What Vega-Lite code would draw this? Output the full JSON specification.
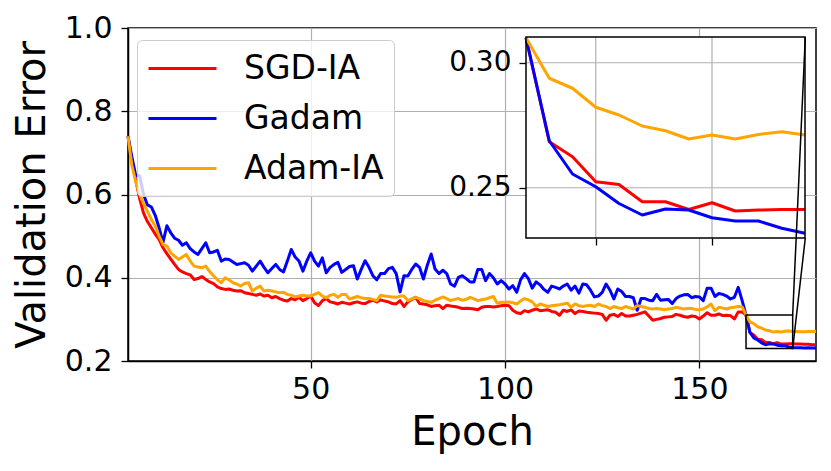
{
  "$schema": "https://vega.github.io/schema/vega-lite/v6.json",
  "width": 688,
  "height": 333,
  "autosize": {"type": "none"},
  "padding": {"left": 128, "top": 28, "right": 15, "bottom": 110},
  "config": {
    "font": "DejaVu Sans",
    "view": {"stroke": "black", "strokeWidth": 1.5},
    "axis": {
      "labelFont": "DejaVu Sans", "titleFont": "DejaVu Sans",
      "labelColor": "black", "titleColor": "black", "titleFontWeight": "normal",
      "domainColor": "black", "domainWidth": 1.5,
      "tickColor": "black", "tickWidth": 1.3,
      "gridColor": "#b0b0b0", "gridWidth": 1.2,
      "labelFlush": false, "labelOverlap": false
    }
  },
  "datasets": {
    "err": [
      {"method":"SGD-IA","epoch":3,"error":0.74},{"method":"SGD-IA","epoch":4,"error":0.68},{"method":"SGD-IA","epoch":5,"error":0.635},{"method":"SGD-IA","epoch":6,"error":0.59},{"method":"SGD-IA","epoch":7,"error":0.555},{"method":"SGD-IA","epoch":8,"error":0.535},{"method":"SGD-IA","epoch":9,"error":0.52},{"method":"SGD-IA","epoch":10,"error":0.505},
      {"method":"SGD-IA","epoch":11,"error":0.492},{"method":"SGD-IA","epoch":12,"error":0.472},{"method":"SGD-IA","epoch":13,"error":0.458},{"method":"SGD-IA","epoch":14,"error":0.445},{"method":"SGD-IA","epoch":15,"error":0.432},{"method":"SGD-IA","epoch":16,"error":0.42},{"method":"SGD-IA","epoch":17,"error":0.414},{"method":"SGD-IA","epoch":18,"error":0.41},{"method":"SGD-IA","epoch":19,"error":0.407},{"method":"SGD-IA","epoch":20,"error":0.396},
      {"method":"SGD-IA","epoch":21,"error":0.398},{"method":"SGD-IA","epoch":22,"error":0.403},{"method":"SGD-IA","epoch":23,"error":0.396},{"method":"SGD-IA","epoch":24,"error":0.39},{"method":"SGD-IA","epoch":25,"error":0.386},{"method":"SGD-IA","epoch":26,"error":0.378},{"method":"SGD-IA","epoch":27,"error":0.374},{"method":"SGD-IA","epoch":28,"error":0.372},{"method":"SGD-IA","epoch":29,"error":0.373},{"method":"SGD-IA","epoch":30,"error":0.37},
      {"method":"SGD-IA","epoch":31,"error":0.368},{"method":"SGD-IA","epoch":32,"error":0.369},{"method":"SGD-IA","epoch":33,"error":0.364},{"method":"SGD-IA","epoch":34,"error":0.362},{"method":"SGD-IA","epoch":35,"error":0.36},{"method":"SGD-IA","epoch":36,"error":0.358},{"method":"SGD-IA","epoch":37,"error":0.361},{"method":"SGD-IA","epoch":38,"error":0.356},{"method":"SGD-IA","epoch":39,"error":0.358},{"method":"SGD-IA","epoch":40,"error":0.352},
      {"method":"SGD-IA","epoch":41,"error":0.355},{"method":"SGD-IA","epoch":42,"error":0.35},{"method":"SGD-IA","epoch":43,"error":0.346},{"method":"SGD-IA","epoch":44,"error":0.344},{"method":"SGD-IA","epoch":45,"error":0.35},{"method":"SGD-IA","epoch":46,"error":0.347},{"method":"SGD-IA","epoch":47,"error":0.353},{"method":"SGD-IA","epoch":48,"error":0.345},{"method":"SGD-IA","epoch":49,"error":0.35},{"method":"SGD-IA","epoch":50,"error":0.356},
      {"method":"SGD-IA","epoch":51,"error":0.34},{"method":"SGD-IA","epoch":52,"error":0.333},{"method":"SGD-IA","epoch":53,"error":0.345},{"method":"SGD-IA","epoch":54,"error":0.35},{"method":"SGD-IA","epoch":55,"error":0.342},{"method":"SGD-IA","epoch":56,"error":0.34},{"method":"SGD-IA","epoch":57,"error":0.337},{"method":"SGD-IA","epoch":58,"error":0.341},{"method":"SGD-IA","epoch":59,"error":0.339},{"method":"SGD-IA","epoch":60,"error":0.337},
      {"method":"SGD-IA","epoch":61,"error":0.34},{"method":"SGD-IA","epoch":62,"error":0.342},{"method":"SGD-IA","epoch":63,"error":0.339},{"method":"SGD-IA","epoch":64,"error":0.338},{"method":"SGD-IA","epoch":65,"error":0.343},{"method":"SGD-IA","epoch":66,"error":0.346},{"method":"SGD-IA","epoch":67,"error":0.342},{"method":"SGD-IA","epoch":68,"error":0.347},{"method":"SGD-IA","epoch":69,"error":0.344},{"method":"SGD-IA","epoch":70,"error":0.342},
      {"method":"SGD-IA","epoch":71,"error":0.338},{"method":"SGD-IA","epoch":72,"error":0.337},{"method":"SGD-IA","epoch":73,"error":0.345},{"method":"SGD-IA","epoch":74,"error":0.331},{"method":"SGD-IA","epoch":75,"error":0.342},{"method":"SGD-IA","epoch":76,"error":0.348},{"method":"SGD-IA","epoch":77,"error":0.353},{"method":"SGD-IA","epoch":78,"error":0.338},{"method":"SGD-IA","epoch":79,"error":0.337},{"method":"SGD-IA","epoch":80,"error":0.335},
      {"method":"SGD-IA","epoch":81,"error":0.331},{"method":"SGD-IA","epoch":82,"error":0.333},{"method":"SGD-IA","epoch":83,"error":0.334},{"method":"SGD-IA","epoch":84,"error":0.326},{"method":"SGD-IA","epoch":85,"error":0.334},{"method":"SGD-IA","epoch":86,"error":0.332},{"method":"SGD-IA","epoch":87,"error":0.331},{"method":"SGD-IA","epoch":88,"error":0.329},{"method":"SGD-IA","epoch":89,"error":0.326},{"method":"SGD-IA","epoch":90,"error":0.327},
      {"method":"SGD-IA","epoch":91,"error":0.326},{"method":"SGD-IA","epoch":92,"error":0.325},{"method":"SGD-IA","epoch":93,"error":0.323},{"method":"SGD-IA","epoch":94,"error":0.329},{"method":"SGD-IA","epoch":95,"error":0.331},{"method":"SGD-IA","epoch":96,"error":0.331},{"method":"SGD-IA","epoch":97,"error":0.33},{"method":"SGD-IA","epoch":98,"error":0.331},{"method":"SGD-IA","epoch":99,"error":0.333},{"method":"SGD-IA","epoch":100,"error":0.334},
      {"method":"SGD-IA","epoch":101,"error":0.333},{"method":"SGD-IA","epoch":102,"error":0.322},{"method":"SGD-IA","epoch":103,"error":0.316},{"method":"SGD-IA","epoch":104,"error":0.314},{"method":"SGD-IA","epoch":105,"error":0.321},{"method":"SGD-IA","epoch":106,"error":0.318},{"method":"SGD-IA","epoch":107,"error":0.322},{"method":"SGD-IA","epoch":108,"error":0.325},{"method":"SGD-IA","epoch":109,"error":0.321},{"method":"SGD-IA","epoch":110,"error":0.322},
      {"method":"SGD-IA","epoch":111,"error":0.323},{"method":"SGD-IA","epoch":112,"error":0.319},{"method":"SGD-IA","epoch":113,"error":0.317},{"method":"SGD-IA","epoch":114,"error":0.31},{"method":"SGD-IA","epoch":115,"error":0.322},{"method":"SGD-IA","epoch":116,"error":0.319},{"method":"SGD-IA","epoch":117,"error":0.323},{"method":"SGD-IA","epoch":118,"error":0.314},{"method":"SGD-IA","epoch":119,"error":0.32},{"method":"SGD-IA","epoch":120,"error":0.319},
      {"method":"SGD-IA","epoch":121,"error":0.317},{"method":"SGD-IA","epoch":122,"error":0.316},{"method":"SGD-IA","epoch":123,"error":0.315},{"method":"SGD-IA","epoch":124,"error":0.314},{"method":"SGD-IA","epoch":125,"error":0.312},{"method":"SGD-IA","epoch":126,"error":0.298},{"method":"SGD-IA","epoch":127,"error":0.31},{"method":"SGD-IA","epoch":128,"error":0.312},{"method":"SGD-IA","epoch":129,"error":0.307},{"method":"SGD-IA","epoch":130,"error":0.314},
      {"method":"SGD-IA","epoch":131,"error":0.308},{"method":"SGD-IA","epoch":132,"error":0.308},{"method":"SGD-IA","epoch":133,"error":0.31},{"method":"SGD-IA","epoch":134,"error":0.312},{"method":"SGD-IA","epoch":135,"error":0.315},{"method":"SGD-IA","epoch":136,"error":0.318},{"method":"SGD-IA","epoch":137,"error":0.308},{"method":"SGD-IA","epoch":138,"error":0.298},{"method":"SGD-IA","epoch":139,"error":0.3},{"method":"SGD-IA","epoch":140,"error":0.302},
      {"method":"SGD-IA","epoch":141,"error":0.305},{"method":"SGD-IA","epoch":142,"error":0.306},{"method":"SGD-IA","epoch":143,"error":0.307},{"method":"SGD-IA","epoch":144,"error":0.312},{"method":"SGD-IA","epoch":145,"error":0.31},{"method":"SGD-IA","epoch":146,"error":0.307},{"method":"SGD-IA","epoch":147,"error":0.305},{"method":"SGD-IA","epoch":148,"error":0.308},{"method":"SGD-IA","epoch":149,"error":0.307},{"method":"SGD-IA","epoch":150,"error":0.301},
      {"method":"SGD-IA","epoch":151,"error":0.308},{"method":"SGD-IA","epoch":152,"error":0.316},{"method":"SGD-IA","epoch":153,"error":0.31},{"method":"SGD-IA","epoch":154,"error":0.31},{"method":"SGD-IA","epoch":155,"error":0.313},{"method":"SGD-IA","epoch":156,"error":0.309},{"method":"SGD-IA","epoch":157,"error":0.31},{"method":"SGD-IA","epoch":158,"error":0.309},{"method":"SGD-IA","epoch":159,"error":0.301},{"method":"SGD-IA","epoch":160,"error":0.318},
      {"method":"SGD-IA","epoch":161,"error":0.318},{"method":"SGD-IA","epoch":162,"error":0.31},{"method":"SGD-IA","epoch":163,"error":0.2684},{"method":"SGD-IA","epoch":164,"error":0.2624},{"method":"SGD-IA","epoch":165,"error":0.2524},{"method":"SGD-IA","epoch":166,"error":0.2513},{"method":"SGD-IA","epoch":167,"error":0.2444},{"method":"SGD-IA","epoch":168,"error":0.2444},{"method":"SGD-IA","epoch":169,"error":0.2413},{"method":"SGD-IA","epoch":170,"error":0.244},
      {"method":"SGD-IA","epoch":171,"error":0.2407},{"method":"SGD-IA","epoch":172,"error":0.2411},{"method":"SGD-IA","epoch":173,"error":0.2413},{"method":"SGD-IA","epoch":174,"error":0.2413},{"method":"SGD-IA","epoch":175,"error":0.241},{"method":"SGD-IA","epoch":176,"error":0.241},{"method":"SGD-IA","epoch":177,"error":0.24},{"method":"SGD-IA","epoch":178,"error":0.24},{"method":"SGD-IA","epoch":179,"error":0.239},{"method":"SGD-IA","epoch":180,"error":0.239},

      {"method":"Gadam","epoch":3,"error":0.74},{"method":"Gadam","epoch":4,"error":0.69},{"method":"Gadam","epoch":5,"error":0.645},{"method":"Gadam","epoch":6,"error":0.645},{"method":"Gadam","epoch":7,"error":0.6},{"method":"Gadam","epoch":8,"error":0.575},{"method":"Gadam","epoch":9,"error":0.57},{"method":"Gadam","epoch":10,"error":0.55},
      {"method":"Gadam","epoch":11,"error":0.52},{"method":"Gadam","epoch":12,"error":0.485},{"method":"Gadam","epoch":13,"error":0.525},{"method":"Gadam","epoch":14,"error":0.508},{"method":"Gadam","epoch":15,"error":0.495},{"method":"Gadam","epoch":16,"error":0.49},{"method":"Gadam","epoch":17,"error":0.478},{"method":"Gadam","epoch":18,"error":0.484},{"method":"Gadam","epoch":19,"error":0.47},{"method":"Gadam","epoch":20,"error":0.462},
      {"method":"Gadam","epoch":21,"error":0.456},{"method":"Gadam","epoch":22,"error":0.47},{"method":"Gadam","epoch":23,"error":0.484},{"method":"Gadam","epoch":24,"error":0.46},{"method":"Gadam","epoch":25,"error":0.462},{"method":"Gadam","epoch":26,"error":0.466},{"method":"Gadam","epoch":27,"error":0.44},{"method":"Gadam","epoch":28,"error":0.445},{"method":"Gadam","epoch":29,"error":0.444},{"method":"Gadam","epoch":30,"error":0.438},
      {"method":"Gadam","epoch":31,"error":0.432},{"method":"Gadam","epoch":32,"error":0.434},{"method":"Gadam","epoch":33,"error":0.436},{"method":"Gadam","epoch":34,"error":0.43},{"method":"Gadam","epoch":35,"error":0.416},{"method":"Gadam","epoch":36,"error":0.428},{"method":"Gadam","epoch":37,"error":0.44},{"method":"Gadam","epoch":38,"error":0.425},{"method":"Gadam","epoch":39,"error":0.412},{"method":"Gadam","epoch":40,"error":0.422},
      {"method":"Gadam","epoch":41,"error":0.432},{"method":"Gadam","epoch":42,"error":0.42},{"method":"Gadam","epoch":43,"error":0.414},{"method":"Gadam","epoch":44,"error":0.44},{"method":"Gadam","epoch":45,"error":0.468},{"method":"Gadam","epoch":46,"error":0.45},{"method":"Gadam","epoch":47,"error":0.44},{"method":"Gadam","epoch":48,"error":0.416},{"method":"Gadam","epoch":49,"error":0.44},{"method":"Gadam","epoch":50,"error":0.46},
      {"method":"Gadam","epoch":51,"error":0.44},{"method":"Gadam","epoch":52,"error":0.428},{"method":"Gadam","epoch":53,"error":0.448},{"method":"Gadam","epoch":54,"error":0.412},{"method":"Gadam","epoch":55,"error":0.425},{"method":"Gadam","epoch":56,"error":0.432},{"method":"Gadam","epoch":57,"error":0.437},{"method":"Gadam","epoch":58,"error":0.413},{"method":"Gadam","epoch":59,"error":0.42},{"method":"Gadam","epoch":60,"error":0.427},
      {"method":"Gadam","epoch":61,"error":0.429},{"method":"Gadam","epoch":62,"error":0.397},{"method":"Gadam","epoch":63,"error":0.42},{"method":"Gadam","epoch":64,"error":0.441},{"method":"Gadam","epoch":65,"error":0.425},{"method":"Gadam","epoch":66,"error":0.405},{"method":"Gadam","epoch":67,"error":0.395},{"method":"Gadam","epoch":68,"error":0.41},{"method":"Gadam","epoch":69,"error":0.41},{"method":"Gadam","epoch":70,"error":0.422},
      {"method":"Gadam","epoch":71,"error":0.425},{"method":"Gadam","epoch":72,"error":0.41},{"method":"Gadam","epoch":73,"error":0.366},{"method":"Gadam","epoch":74,"error":0.405},{"method":"Gadam","epoch":75,"error":0.404},{"method":"Gadam","epoch":76,"error":0.42},{"method":"Gadam","epoch":77,"error":0.433},{"method":"Gadam","epoch":78,"error":0.425},{"method":"Gadam","epoch":79,"error":0.397},{"method":"Gadam","epoch":80,"error":0.43},
      {"method":"Gadam","epoch":81,"error":0.457},{"method":"Gadam","epoch":82,"error":0.421},{"method":"Gadam","epoch":83,"error":0.41},{"method":"Gadam","epoch":84,"error":0.418},{"method":"Gadam","epoch":85,"error":0.41},{"method":"Gadam","epoch":86,"error":0.385},{"method":"Gadam","epoch":87,"error":0.38},{"method":"Gadam","epoch":88,"error":0.401},{"method":"Gadam","epoch":89,"error":0.405},{"method":"Gadam","epoch":90,"error":0.398},
      {"method":"Gadam","epoch":91,"error":0.39},{"method":"Gadam","epoch":92,"error":0.39},{"method":"Gadam","epoch":93,"error":0.42},{"method":"Gadam","epoch":94,"error":0.42},{"method":"Gadam","epoch":95,"error":0.393},{"method":"Gadam","epoch":96,"error":0.41},{"method":"Gadam","epoch":97,"error":0.4},{"method":"Gadam","epoch":98,"error":0.385},{"method":"Gadam","epoch":99,"error":0.393},{"method":"Gadam","epoch":100,"error":0.385},
      {"method":"Gadam","epoch":101,"error":0.373},{"method":"Gadam","epoch":102,"error":0.381},{"method":"Gadam","epoch":103,"error":0.365},{"method":"Gadam","epoch":104,"error":0.395},{"method":"Gadam","epoch":105,"error":0.41},{"method":"Gadam","epoch":106,"error":0.398},{"method":"Gadam","epoch":107,"error":0.375},{"method":"Gadam","epoch":108,"error":0.39},{"method":"Gadam","epoch":109,"error":0.383},{"method":"Gadam","epoch":110,"error":0.372},
      {"method":"Gadam","epoch":111,"error":0.365},{"method":"Gadam","epoch":112,"error":0.38},{"method":"Gadam","epoch":113,"error":0.377},{"method":"Gadam","epoch":114,"error":0.373},{"method":"Gadam","epoch":115,"error":0.38},{"method":"Gadam","epoch":116,"error":0.385},{"method":"Gadam","epoch":117,"error":0.37},{"method":"Gadam","epoch":118,"error":0.38},{"method":"Gadam","epoch":119,"error":0.363},{"method":"Gadam","epoch":120,"error":0.385},
      {"method":"Gadam","epoch":121,"error":0.383},{"method":"Gadam","epoch":122,"error":0.37},{"method":"Gadam","epoch":123,"error":0.354},{"method":"Gadam","epoch":124,"error":0.356},{"method":"Gadam","epoch":125,"error":0.365},{"method":"Gadam","epoch":126,"error":0.385},{"method":"Gadam","epoch":127,"error":0.37},{"method":"Gadam","epoch":128,"error":0.349},{"method":"Gadam","epoch":129,"error":0.373},{"method":"Gadam","epoch":130,"error":0.367},
      {"method":"Gadam","epoch":131,"error":0.355},{"method":"Gadam","epoch":132,"error":0.355},{"method":"Gadam","epoch":133,"error":0.352},{"method":"Gadam","epoch":134,"error":0.322},{"method":"Gadam","epoch":135,"error":0.35},{"method":"Gadam","epoch":136,"error":0.35},{"method":"Gadam","epoch":137,"error":0.346},{"method":"Gadam","epoch":138,"error":0.345},{"method":"Gadam","epoch":139,"error":0.36},{"method":"Gadam","epoch":140,"error":0.346},
      {"method":"Gadam","epoch":141,"error":0.347},{"method":"Gadam","epoch":142,"error":0.348},{"method":"Gadam","epoch":143,"error":0.338},{"method":"Gadam","epoch":144,"error":0.35},{"method":"Gadam","epoch":145,"error":0.356},{"method":"Gadam","epoch":146,"error":0.359},{"method":"Gadam","epoch":147,"error":0.36},{"method":"Gadam","epoch":148,"error":0.352},{"method":"Gadam","epoch":149,"error":0.355},{"method":"Gadam","epoch":150,"error":0.354},
      {"method":"Gadam","epoch":151,"error":0.345},{"method":"Gadam","epoch":152,"error":0.375},{"method":"Gadam","epoch":153,"error":0.375},{"method":"Gadam","epoch":154,"error":0.355},{"method":"Gadam","epoch":155,"error":0.362},{"method":"Gadam","epoch":156,"error":0.36},{"method":"Gadam","epoch":157,"error":0.356},{"method":"Gadam","epoch":158,"error":0.349},{"method":"Gadam","epoch":159,"error":0.353},{"method":"Gadam","epoch":160,"error":0.377},
      {"method":"Gadam","epoch":161,"error":0.345},{"method":"Gadam","epoch":162,"error":0.31},{"method":"Gadam","epoch":163,"error":0.2688},{"method":"Gadam","epoch":164,"error":0.2555},{"method":"Gadam","epoch":165,"error":0.2504},{"method":"Gadam","epoch":166,"error":0.2437},{"method":"Gadam","epoch":167,"error":0.2391},{"method":"Gadam","epoch":168,"error":0.2415},{"method":"Gadam","epoch":169,"error":0.2411},{"method":"Gadam","epoch":170,"error":0.238},
      {"method":"Gadam","epoch":171,"error":0.2367},{"method":"Gadam","epoch":172,"error":0.2367},{"method":"Gadam","epoch":173,"error":0.2338},{"method":"Gadam","epoch":174,"error":0.2318},{"method":"Gadam","epoch":175,"error":0.232},{"method":"Gadam","epoch":176,"error":0.232},{"method":"Gadam","epoch":177,"error":0.231},{"method":"Gadam","epoch":178,"error":0.232},{"method":"Gadam","epoch":179,"error":0.231},{"method":"Gadam","epoch":180,"error":0.231},

      {"method":"Adam-IA","epoch":3,"error":0.74},{"method":"Adam-IA","epoch":4,"error":0.67},{"method":"Adam-IA","epoch":5,"error":0.63},{"method":"Adam-IA","epoch":6,"error":0.6},{"method":"Adam-IA","epoch":7,"error":0.578},{"method":"Adam-IA","epoch":8,"error":0.56},{"method":"Adam-IA","epoch":9,"error":0.54},{"method":"Adam-IA","epoch":10,"error":0.525},
      {"method":"Adam-IA","epoch":11,"error":0.5},{"method":"Adam-IA","epoch":12,"error":0.48},{"method":"Adam-IA","epoch":13,"error":0.476},{"method":"Adam-IA","epoch":14,"error":0.46},{"method":"Adam-IA","epoch":15,"error":0.452},{"method":"Adam-IA","epoch":16,"error":0.444},{"method":"Adam-IA","epoch":17,"error":0.45},{"method":"Adam-IA","epoch":18,"error":0.456},{"method":"Adam-IA","epoch":19,"error":0.44},{"method":"Adam-IA","epoch":20,"error":0.428},
      {"method":"Adam-IA","epoch":21,"error":0.426},{"method":"Adam-IA","epoch":22,"error":0.424},{"method":"Adam-IA","epoch":23,"error":0.428},{"method":"Adam-IA","epoch":24,"error":0.415},{"method":"Adam-IA","epoch":25,"error":0.405},{"method":"Adam-IA","epoch":26,"error":0.395},{"method":"Adam-IA","epoch":27,"error":0.388},{"method":"Adam-IA","epoch":28,"error":0.4},{"method":"Adam-IA","epoch":29,"error":0.395},{"method":"Adam-IA","epoch":30,"error":0.388},
      {"method":"Adam-IA","epoch":31,"error":0.385},{"method":"Adam-IA","epoch":32,"error":0.38},{"method":"Adam-IA","epoch":33,"error":0.386},{"method":"Adam-IA","epoch":34,"error":0.388},{"method":"Adam-IA","epoch":35,"error":0.368},{"method":"Adam-IA","epoch":36,"error":0.375},{"method":"Adam-IA","epoch":37,"error":0.38},{"method":"Adam-IA","epoch":38,"error":0.368},{"method":"Adam-IA","epoch":39,"error":0.37},{"method":"Adam-IA","epoch":40,"error":0.368},
      {"method":"Adam-IA","epoch":41,"error":0.366},{"method":"Adam-IA","epoch":42,"error":0.364},{"method":"Adam-IA","epoch":43,"error":0.365},{"method":"Adam-IA","epoch":44,"error":0.36},{"method":"Adam-IA","epoch":45,"error":0.358},{"method":"Adam-IA","epoch":46,"error":0.354},{"method":"Adam-IA","epoch":47,"error":0.356},{"method":"Adam-IA","epoch":48,"error":0.358},{"method":"Adam-IA","epoch":49,"error":0.356},{"method":"Adam-IA","epoch":50,"error":0.356},
      {"method":"Adam-IA","epoch":51,"error":0.36},{"method":"Adam-IA","epoch":52,"error":0.364},{"method":"Adam-IA","epoch":53,"error":0.356},{"method":"Adam-IA","epoch":54,"error":0.352},{"method":"Adam-IA","epoch":55,"error":0.358},{"method":"Adam-IA","epoch":56,"error":0.36},{"method":"Adam-IA","epoch":57,"error":0.353},{"method":"Adam-IA","epoch":58,"error":0.36},{"method":"Adam-IA","epoch":59,"error":0.36},{"method":"Adam-IA","epoch":60,"error":0.349},
      {"method":"Adam-IA","epoch":61,"error":0.352},{"method":"Adam-IA","epoch":62,"error":0.355},{"method":"Adam-IA","epoch":63,"error":0.352},{"method":"Adam-IA","epoch":64,"error":0.35},{"method":"Adam-IA","epoch":65,"error":0.35},{"method":"Adam-IA","epoch":66,"error":0.348},{"method":"Adam-IA","epoch":67,"error":0.345},{"method":"Adam-IA","epoch":68,"error":0.358},{"method":"Adam-IA","epoch":69,"error":0.356},{"method":"Adam-IA","epoch":70,"error":0.355},
      {"method":"Adam-IA","epoch":71,"error":0.354},{"method":"Adam-IA","epoch":72,"error":0.353},{"method":"Adam-IA","epoch":73,"error":0.356},{"method":"Adam-IA","epoch":74,"error":0.356},{"method":"Adam-IA","epoch":75,"error":0.345},{"method":"Adam-IA","epoch":76,"error":0.349},{"method":"Adam-IA","epoch":77,"error":0.353},{"method":"Adam-IA","epoch":78,"error":0.35},{"method":"Adam-IA","epoch":79,"error":0.345},{"method":"Adam-IA","epoch":80,"error":0.343},
      {"method":"Adam-IA","epoch":81,"error":0.341},{"method":"Adam-IA","epoch":82,"error":0.346},{"method":"Adam-IA","epoch":83,"error":0.35},{"method":"Adam-IA","epoch":84,"error":0.354},{"method":"Adam-IA","epoch":85,"error":0.35},{"method":"Adam-IA","epoch":86,"error":0.345},{"method":"Adam-IA","epoch":87,"error":0.348},{"method":"Adam-IA","epoch":88,"error":0.35},{"method":"Adam-IA","epoch":89,"error":0.346},{"method":"Adam-IA","epoch":90,"error":0.348},
      {"method":"Adam-IA","epoch":91,"error":0.353},{"method":"Adam-IA","epoch":92,"error":0.349},{"method":"Adam-IA","epoch":93,"error":0.345},{"method":"Adam-IA","epoch":94,"error":0.347},{"method":"Adam-IA","epoch":95,"error":0.349},{"method":"Adam-IA","epoch":96,"error":0.352},{"method":"Adam-IA","epoch":97,"error":0.355},{"method":"Adam-IA","epoch":98,"error":0.339},{"method":"Adam-IA","epoch":99,"error":0.341},{"method":"Adam-IA","epoch":100,"error":0.341},
      {"method":"Adam-IA","epoch":101,"error":0.342},{"method":"Adam-IA","epoch":102,"error":0.34},{"method":"Adam-IA","epoch":103,"error":0.337},{"method":"Adam-IA","epoch":104,"error":0.344},{"method":"Adam-IA","epoch":105,"error":0.35},{"method":"Adam-IA","epoch":106,"error":0.347},{"method":"Adam-IA","epoch":107,"error":0.342},{"method":"Adam-IA","epoch":108,"error":0.331},{"method":"Adam-IA","epoch":109,"error":0.337},{"method":"Adam-IA","epoch":110,"error":0.334},
      {"method":"Adam-IA","epoch":111,"error":0.331},{"method":"Adam-IA","epoch":112,"error":0.333},{"method":"Adam-IA","epoch":113,"error":0.334},{"method":"Adam-IA","epoch":114,"error":0.335},{"method":"Adam-IA","epoch":115,"error":0.337},{"method":"Adam-IA","epoch":116,"error":0.339},{"method":"Adam-IA","epoch":117,"error":0.329},{"method":"Adam-IA","epoch":118,"error":0.337},{"method":"Adam-IA","epoch":119,"error":0.333},{"method":"Adam-IA","epoch":120,"error":0.331},
      {"method":"Adam-IA","epoch":121,"error":0.333},{"method":"Adam-IA","epoch":122,"error":0.334},{"method":"Adam-IA","epoch":123,"error":0.331},{"method":"Adam-IA","epoch":124,"error":0.337},{"method":"Adam-IA","epoch":125,"error":0.333},{"method":"Adam-IA","epoch":126,"error":0.331},{"method":"Adam-IA","epoch":127,"error":0.326},{"method":"Adam-IA","epoch":128,"error":0.331},{"method":"Adam-IA","epoch":129,"error":0.328},{"method":"Adam-IA","epoch":130,"error":0.326},
      {"method":"Adam-IA","epoch":131,"error":0.331},{"method":"Adam-IA","epoch":132,"error":0.328},{"method":"Adam-IA","epoch":133,"error":0.325},{"method":"Adam-IA","epoch":134,"error":0.333},{"method":"Adam-IA","epoch":135,"error":0.331},{"method":"Adam-IA","epoch":136,"error":0.329},{"method":"Adam-IA","epoch":137,"error":0.326},{"method":"Adam-IA","epoch":138,"error":0.325},{"method":"Adam-IA","epoch":139,"error":0.326},{"method":"Adam-IA","epoch":140,"error":0.325},
      {"method":"Adam-IA","epoch":141,"error":0.323},{"method":"Adam-IA","epoch":142,"error":0.325},{"method":"Adam-IA","epoch":143,"error":0.326},{"method":"Adam-IA","epoch":144,"error":0.329},{"method":"Adam-IA","epoch":145,"error":0.327},{"method":"Adam-IA","epoch":146,"error":0.325},{"method":"Adam-IA","epoch":147,"error":0.326},{"method":"Adam-IA","epoch":148,"error":0.326},{"method":"Adam-IA","epoch":149,"error":0.324},{"method":"Adam-IA","epoch":150,"error":0.323},
      {"method":"Adam-IA","epoch":151,"error":0.325},{"method":"Adam-IA","epoch":152,"error":0.33},{"method":"Adam-IA","epoch":153,"error":0.337},{"method":"Adam-IA","epoch":154,"error":0.321},{"method":"Adam-IA","epoch":155,"error":0.329},{"method":"Adam-IA","epoch":156,"error":0.327},{"method":"Adam-IA","epoch":157,"error":0.325},{"method":"Adam-IA","epoch":158,"error":0.328},{"method":"Adam-IA","epoch":159,"error":0.329},{"method":"Adam-IA","epoch":160,"error":0.331},
      {"method":"Adam-IA","epoch":161,"error":0.33},{"method":"Adam-IA","epoch":162,"error":0.31},{"method":"Adam-IA","epoch":163,"error":0.2938},{"method":"Adam-IA","epoch":164,"error":0.2898},{"method":"Adam-IA","epoch":165,"error":0.2822},{"method":"Adam-IA","epoch":166,"error":0.2791},{"method":"Adam-IA","epoch":167,"error":0.2747},{"method":"Adam-IA","epoch":168,"error":0.2728},{"method":"Adam-IA","epoch":169,"error":0.2695},{"method":"Adam-IA","epoch":170,"error":0.2711},
      {"method":"Adam-IA","epoch":171,"error":0.2695},{"method":"Adam-IA","epoch":172,"error":0.2713},{"method":"Adam-IA","epoch":173,"error":0.2724},{"method":"Adam-IA","epoch":174,"error":0.2711},{"method":"Adam-IA","epoch":175,"error":0.271},{"method":"Adam-IA","epoch":176,"error":0.27},{"method":"Adam-IA","epoch":177,"error":0.27},{"method":"Adam-IA","epoch":178,"error":0.271},{"method":"Adam-IA","epoch":179,"error":0.271},{"method":"Adam-IA","epoch":180,"error":0.271}
    ]
  },
  "layer": [
    {
      "data": {"name": "err"},
      "mark": {"type": "line", "strokeWidth": 3, "strokeJoin": "round"},
      "encoding": {
        "x": {
          "field": "epoch", "type": "quantitative",
          "scale": {"domain": [3, 180], "nice": false, "zero": false},
          "axis": {"title": "Epoch", "values": [50, 100, 150], "labelFontSize": 30, "titleFontSize": 40, "tickSize": 7, "labelPadding": 6, "titlePadding": 8}
        },
        "y": {
          "field": "error", "type": "quantitative",
          "scale": {"domain": [0.2, 1.0], "nice": false, "zero": false},
          "axis": {"title": "Validation Error", "values": [0.2, 0.4, 0.6, 0.8, 1.0], "format": ".1f", "labelFontSize": 30, "titleFontSize": 40, "tickSize": 7, "labelPadding": 9, "titlePadding": 12}
        },
        "color": {
          "field": "method", "type": "nominal",
          "scale": {"domain": ["SGD-IA", "Gadam", "Adam-IA"], "range": ["#ff0000", "#0000ff", "#ffa500"]},
          "legend": {
            "orient": "none", "legendX": 9, "legendY": 12, "title": null,
            "symbolType": "M-1,0H3", "symbolSize": 1156, "symbolStrokeWidth": 3,
            "labelFont": "DejaVu Sans", "labelFontSize": 33, "labelColor": "black", "labelOffset": 60,
            "rowPadding": 14, "padding": 10,
            "fillColor": "rgba(255,255,255,0.8)", "strokeColor": "#cccccc", "cornerRadius": 5, "zindex": 1
          }
        }
      }
    },
    {
      "data": {"values": [{"x1": 162, "x2": 174, "y1": 0.2299, "y2": 0.3103}]},
      "mark": {"type": "rect", "filled": false, "stroke": "black", "strokeWidth": 1.5},
      "encoding": {
        "x": {"field": "x1", "type": "quantitative", "scale": {"domain": [3, 180], "nice": false, "zero": false}, "axis": null},
        "x2": {"field": "x2"},
        "y": {"field": "y1", "type": "quantitative", "scale": {"domain": [0.2, 1.0], "nice": false, "zero": false}, "axis": null},
        "y2": {"field": "y2"}
      }
    },
    {
      "data": {"values": [{"x1": 162, "x2": 174, "y1": 0.2299, "y2": 0.3103}]},
      "mark": {"type": "rect", "fill": "white", "strokeWidth": 0},
      "encoding": {
        "x": {
          "field": "x1", "type": "quantitative",
          "scale": {"domain": [162, 174], "range": [398, 677], "nice": false, "zero": false},
          "axis": {"orient": "bottom", "offset": -123, "values": [165, 170], "labels": false, "domain": false, "grid": false, "tickSize": 7, "title": null}
        },
        "x2": {"field": "x2"},
        "y": {
          "field": "y1", "type": "quantitative",
          "scale": {"domain": [0.2299, 0.3103], "range": [210, 9], "nice": false, "zero": false},
          "axis": {"orient": "left", "offset": -398, "values": [0.25, 0.3], "format": ".2f", "labelFontSize": 28, "labelPadding": 8, "domain": false, "grid": false, "tickSize": 7, "title": null}
        },
        "y2": {"field": "y2"}
      }
    },
    {
      "data": {"values": [{"epoch": 165}, {"epoch": 170}]},
      "mark": {"type": "rule", "color": "#b0b0b0", "strokeWidth": 1.2},
      "encoding": {
        "x": {"field": "epoch", "type": "quantitative", "scale": {"domain": [162, 174], "range": [398, 677], "nice": false, "zero": false}, "axis": null},
        "y": {"datum": 0.2299, "type": "quantitative", "scale": {"domain": [0.2299, 0.3103], "range": [210, 9], "nice": false, "zero": false}, "axis": null},
        "y2": {"datum": 0.3103}
      }
    },
    {
      "data": {"values": [{"error": 0.25}, {"error": 0.3}]},
      "mark": {"type": "rule", "color": "#b0b0b0", "strokeWidth": 1.2},
      "encoding": {
        "y": {"field": "error", "type": "quantitative", "scale": {"domain": [0.2299, 0.3103], "range": [210, 9], "nice": false, "zero": false}, "axis": null},
        "x": {"datum": 162, "type": "quantitative", "scale": {"domain": [162, 174], "range": [398, 677], "nice": false, "zero": false}, "axis": null},
        "x2": {"datum": 174}
      }
    },
    {
      "data": {"name": "err"},
      "transform": [{"filter": "datum.epoch >= 162 && datum.epoch <= 174"}],
      "mark": {"type": "line", "strokeWidth": 3, "strokeJoin": "round"},
      "encoding": {
        "x": {"field": "epoch", "type": "quantitative", "scale": {"domain": [162, 174], "range": [398, 677], "nice": false, "zero": false}, "axis": null},
        "y": {"field": "error", "type": "quantitative", "scale": {"domain": [0.2299, 0.3103], "range": [210, 9], "nice": false, "zero": false}, "axis": null},
        "color": {"field": "method", "type": "nominal", "legend": null}
      }
    },
    {
      "data": {"values": [{"x1": 162, "x2": 174, "y1": 0.2299, "y2": 0.3103}]},
      "mark": {"type": "rect", "filled": false, "stroke": "black", "strokeWidth": 1.5},
      "encoding": {
        "x": {"field": "x1", "type": "quantitative", "scale": {"domain": [162, 174], "range": [398, 677], "nice": false, "zero": false}, "axis": null},
        "x2": {"field": "x2"},
        "y": {"field": "y1", "type": "quantitative", "scale": {"domain": [0.2299, 0.3103], "range": [210, 9], "nice": false, "zero": false}, "axis": null},
        "y2": {"field": "y2"}
      }
    },
    {
      "data": {"values": [
        {"x1": 174, "y1": 0.3103, "x2": 177.25, "y2": 0.9784},
        {"x1": 174, "y1": 0.2299, "x2": 177.25, "y2": 0.4955}
      ]},
      "mark": {"type": "rule", "color": "black", "strokeWidth": 1.5},
      "encoding": {
        "x": {"field": "x1", "type": "quantitative", "scale": {"domain": [3, 180], "nice": false, "zero": false}, "axis": null},
        "y": {"field": "y1", "type": "quantitative", "scale": {"domain": [0.2, 1.0], "nice": false, "zero": false}, "axis": null},
        "x2": {"field": "x2"},
        "y2": {"field": "y2"}
      }
    }
  ],
  "resolve": {"scale": {"x": "independent", "y": "independent"}}
}
